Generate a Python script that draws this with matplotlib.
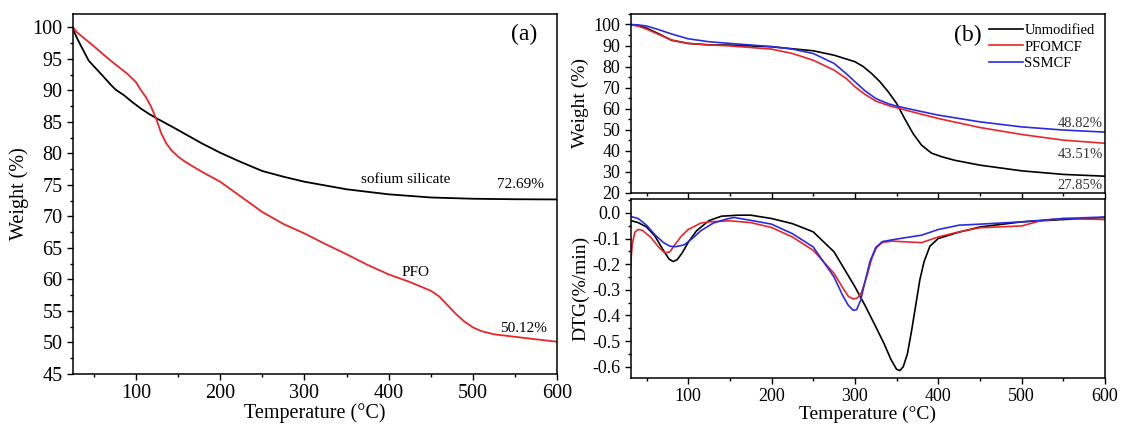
import numpy as np
import matplotlib
matplotlib.use("Agg")
import matplotlib.pyplot as plt
from matplotlib.ticker import MultipleLocator, FuncFormatter

plt.rcParams['font.family'] = ['Liberation Serif', 'DejaVu Serif']

# ---- (a) TGA of sodium silicate and PFO ----
ss_t = [25, 30, 35, 44, 53, 62, 70, 76, 86, 96, 106, 115, 124, 146, 178, 200, 225, 250, 275, 300,
        350, 400, 450, 500, 550, 600]
ss_w = [99.8, 98.3, 97.0, 94.7, 93.4, 92.1, 90.9, 90.1, 89.2, 88.1, 87.1, 86.3, 85.6, 84.0, 81.6, 80.1,
        78.6, 77.2, 76.3, 75.5, 74.3, 73.5, 73.0, 72.8, 72.72, 72.69]

pfo_t = [25, 30, 50, 70, 90, 100, 106, 112, 118, 124, 130, 136, 142, 150, 158, 178, 200, 225, 250, 275,
         300, 325, 350, 375, 400, 425, 450, 460, 470, 480, 490, 500, 510, 525, 550, 575, 600]
pfo_w = [100.1, 99.2, 97.0, 94.7, 92.6, 91.3, 90.0, 88.9, 87.4, 85.5, 83.2, 81.6, 80.5, 79.5, 78.7, 77.1,
         75.5, 73.1, 70.7, 68.8, 67.3, 65.6, 64.0, 62.3, 60.8, 59.6, 58.2, 57.3, 55.9, 54.5, 53.3, 52.4,
         51.8, 51.3, 50.9, 50.5, 50.12]

# ---- (b) TGA of modified / unmodified ----
unmod_t = [30, 40, 50, 65, 80, 100, 125, 150, 200, 250, 275, 300, 310, 320, 330, 340, 350, 360, 370,
           380, 392, 405, 420, 450, 500, 550, 600]
unmod_w = [100, 99.5, 98.3, 95.5, 92.5, 91.0, 90.3, 90.2, 89.4, 87.5, 85.4, 82.3, 80.0, 76.7, 72.8,
           68.0, 62.5, 55.0, 48.0, 42.6, 38.8, 37.0, 35.4, 33.1, 30.4, 28.7, 27.85]

pfomcf_t = [30, 40, 50, 65, 80, 100, 125, 150, 200, 225, 250, 275, 290, 300, 312, 325, 340, 350, 375,
            400, 450, 500, 550, 600]
pfomcf_w = [100, 99.2, 97.8, 95.2, 92.6, 91.0, 90.3, 89.8, 88.3, 86.2, 83.0, 78.3, 74.2, 70.4, 66.8,
            63.6, 61.5, 60.4, 57.8, 55.3, 51.0, 47.7, 45.0, 43.51]

ssmcf_t = [30, 40, 50, 65, 80, 100, 125, 150, 200, 225, 250, 275, 290, 300, 312, 325, 340, 350, 375,
           400, 450, 500, 550, 600]
ssmcf_w = [100, 99.8, 99.3, 97.5, 95.5, 93.2, 91.8, 91.0, 89.5, 88.3, 86.2, 81.5, 76.5, 72.8, 68.5,
           64.8, 62.3, 61.2, 59.0, 56.9, 53.7, 51.3, 49.8, 48.82]

final_labels = ['27.85%', '43.51%', '48.82%']

# ---- (b) DTG ----
unmod_dt = [30, 40, 50, 60, 70, 77, 82, 87, 93, 100, 110, 125, 140, 160, 175, 200, 225, 250, 275, 300,
            312, 325, 335, 343, 350, 354, 358, 363, 368, 373, 378, 383, 390, 400, 425, 450, 500, 550, 600]
unmod_dtg = [-0.029, -0.038, -0.055, -0.09, -0.145, -0.18, -0.19, -0.182, -0.155, -0.115, -0.07, -0.03,
             -0.013, -0.009, -0.009, -0.022, -0.042, -0.074, -0.152, -0.288, -0.36, -0.444, -0.51, -0.57,
             -0.61, -0.615, -0.60, -0.55, -0.46, -0.36, -0.26, -0.19, -0.13, -0.1, -0.075, -0.055, -0.035,
             -0.026, -0.018]

pfo_dt = [30, 31, 33, 36, 40, 45, 55, 65, 72, 78, 85, 92, 100, 115, 125, 150, 175, 200, 225, 250, 275,
          285, 292, 298, 303, 308, 315, 320, 326, 333, 345, 360, 380, 400, 425, 450, 500, 525, 550, 600]
pfo_dtg = [-0.30, -0.20, -0.12, -0.075, -0.065, -0.068, -0.095, -0.135, -0.156, -0.152, -0.12, -0.09,
           -0.065, -0.04, -0.035, -0.031, -0.038, -0.057, -0.094, -0.146, -0.236, -0.29, -0.325, -0.336,
           -0.332, -0.31, -0.24, -0.18, -0.135, -0.115, -0.11, -0.113, -0.116, -0.094, -0.074, -0.058,
           -0.051, -0.029, -0.022, -0.026]

ss_dt = [30, 40, 50, 60, 70, 78, 85, 95, 105, 115, 130, 145, 155, 175, 200, 225, 250, 275, 285, 292,
         298, 302, 307, 312, 318, 325, 333, 345, 360, 380, 400, 425, 450, 500, 550, 600]
ss_dtg = [-0.013, -0.022, -0.048, -0.085, -0.115, -0.13, -0.132, -0.125, -0.1, -0.07, -0.04, -0.025,
          -0.018, -0.029, -0.044, -0.081, -0.133, -0.25, -0.32, -0.36, -0.38, -0.378, -0.34, -0.27, -0.19,
          -0.135, -0.112, -0.105, -0.097, -0.087, -0.065, -0.048, -0.044, -0.035, -0.022, -0.016]

RED = '#e8262a'
BLUE = '#2b2be0'

fig = plt.figure(figsize=(11.22, 4.25), dpi=100)
ax1 = fig.add_axes([0.0648, 0.12, 0.4318, 0.847])
ax2 = fig.add_axes([0.5621, 0.5466, 0.4227, 0.4205])
ax3 = fig.add_axes([0.5621, 0.1106, 0.4227, 0.4205])


def style(ax, size):
    ax.tick_params(which='major', direction='out', length=4, width=1, labelsize=size)
    ax.tick_params(which='minor', direction='out', length=2.2, width=1)
    ax.tick_params(top=False, right=False)
    for s in ax.spines.values():
        s.set_linewidth(1.1)


# panel (a)
ax1.plot(ss_t, ss_w, color='black', lw=1.3)
ax1.plot(pfo_t, pfo_w, color=RED, lw=1.3)
ax1.set_xlim(25, 600)
ax1.set_ylim(45, 102.1)
ax1.xaxis.set_major_locator(MultipleLocator(100))
ax1.xaxis.set_minor_locator(MultipleLocator(50))
ax1.yaxis.set_major_locator(MultipleLocator(5))
ax1.yaxis.set_minor_locator(MultipleLocator(2.5))
style(ax1, 14.5)
ax1.set_xlabel('Temperature (°C)', fontsize=14.5, labelpad=0)
ax1.set_ylabel('Weight (%)', fontsize=14.5, labelpad=2)
ax1.text(420, 75.9, 'sofium silicate', fontsize=11, ha='center', va='center')
ax1.text(556, 75.0, '72.69%', fontsize=11, ha='center', va='center')
ax1.text(432, 61.1, 'PFO', fontsize=11, ha='center', va='center')
ax1.text(560, 52.2, '50.12%', fontsize=11, ha='center', va='center')
ax1.text(561, 98.8, '(a)', fontsize=17, ha='center', va='center')

# panel (b) top
ax2.plot(unmod_t, unmod_w, color='black', lw=1.2, label='Unmodified')
ax2.plot(pfomcf_t, pfomcf_w, color=RED, lw=1.2, label='PFOMCF')
ax2.plot(ssmcf_t, ssmcf_w, color=BLUE, lw=1.2, label='SSMCF')
ax2.set_xlim(31, 600)
ax2.set_ylim(20, 105)
ax2.xaxis.set_major_locator(MultipleLocator(100))
ax2.xaxis.set_minor_locator(MultipleLocator(50))
ax2.yaxis.set_major_locator(MultipleLocator(10))
ax2.yaxis.set_minor_locator(MultipleLocator(5))
style(ax2, 13)
ax2.tick_params(labelbottom=False)
ax2.set_ylabel('Weight (%)', fontsize=14, labelpad=3)
for yy, lab in zip([23.6, 38.3, 52.9], final_labels):
    ax2.text(570, yy, lab, fontsize=10.5, ha='center', va='center', color='#333333')
ax2.text(435, 95, '(b)', fontsize=17, ha='center', va='center')
ax2.legend(loc='upper right', frameon=False, fontsize=10.5, handlelength=2.3,
           handletextpad=0.1, labelspacing=0.2, borderaxespad=0.3)

# panel (b) bottom
ax3.plot(unmod_dt, unmod_dtg, color='black', lw=1.2)
ax3.plot(pfo_dt, pfo_dtg, color=RED, lw=1.2)
ax3.plot(ss_dt, ss_dtg, color=BLUE, lw=1.2)
ax3.set_xlim(31, 600)
ax3.set_ylim(-0.644, 0.053)
ax3.xaxis.set_major_locator(MultipleLocator(100))
ax3.xaxis.set_minor_locator(MultipleLocator(50))
ax3.yaxis.set_major_locator(MultipleLocator(0.1))
ax3.yaxis.set_minor_locator(MultipleLocator(0.05))
ax3.yaxis.set_major_formatter(FuncFormatter(lambda v, p: '0.0' if abs(v) < 1e-9 else '%.1f' % v))
style(ax3, 13)
ax3.set_xlabel('Temperature (°C)', fontsize=14, labelpad=0)
ax3.set_ylabel('DTG(%/min)', fontsize=14, labelpad=2)

fig.savefig('out.png', dpi=100)
